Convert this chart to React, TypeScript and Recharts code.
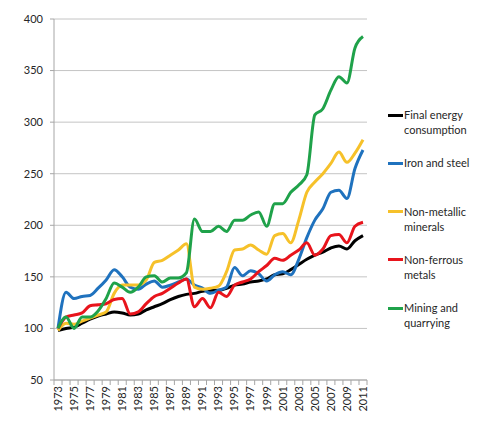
import React from 'react';
import { LineChart, Line, XAxis, YAxis, CartesianGrid } from 'recharts';

const years = [
  '1973', '1974', '1975', '1976', '1977', '1978', '1979', '1980', '1981', '1982',
  '1983', '1984', '1985', '1986', '1987', '1988', '1989', '1990', '1991', '1992',
  '1993', '1994', '1995', '1996', '1997', '1998', '1999', '2000', '2001', '2002',
  '2003', '2004', '2005', '2006', '2007', '2008', '2009', '2010', '2011',
];

const finalEnergy = [
  98, 100, 101, 105, 109, 112, 114, 116, 115, 113,
  114, 118, 121, 124, 128, 131, 133, 134, 136, 137,
  137, 139, 142, 143, 145, 146, 148, 152, 153, 157,
  162, 167, 171, 174, 178, 180, 177, 185, 190,
];

const ironSteel = [
  100, 135, 129, 131, 132, 139, 147, 157, 150, 140,
  138, 143, 146, 140, 142, 145, 148, 142, 139, 134,
  137, 140, 159, 151, 156, 153, 146, 152, 155, 152,
  167, 188, 205, 216, 232, 234, 226, 255, 273,
];

const nonMetallic = [
  98, 105, 104, 107, 110, 113, 116, 134, 142, 142,
  142, 147, 164, 166, 171, 176, 182, 140, 138, 139,
  141, 155, 176, 177, 181, 176, 172, 190, 192, 183,
  205, 232, 242, 250, 260, 271, 261, 270, 283,
];

const nonFerrous = [
  100, 111, 113, 115, 122, 123, 124, 128, 129, 114,
  116, 124, 131, 134, 139, 144, 148, 121, 129, 120,
  135, 131, 142, 145, 148, 155, 161, 168, 166, 171,
  176, 183, 171, 177, 190, 191, 183, 199, 203,
];

const mining = [
  100, 111, 100, 111, 111, 117, 129, 144, 140, 135,
  140, 150, 151, 145, 149, 149, 154, 206, 194, 194,
  199, 194, 205, 205, 210, 213, 199, 221, 221, 232,
  239, 249, 307, 313, 331, 344, 338, 372, 383,
];

const yTicks = [50, 100, 150, 200, 250, 300, 350, 400];

const series = [
  { key: 'final', name: 'Final energy consumption', color: '#000000', values: finalEnergy },
  { key: 'iron', name: 'Iron and steel', color: '#1F72BE', values: ironSteel },
  { key: 'nonmet', name: 'Non-metallic minerals', color: '#F6C12A', values: nonMetallic },
  { key: 'nonfer', name: 'Non-ferrous metals', color: '#E8141C', values: nonFerrous },
  { key: 'mining', name: 'Mining and quarrying', color: '#1FA24A', values: mining },
];

const data = years.map((year, i) => {
  const row: Record<string, string | number> = { year };
  series.forEach((s) => {
    row[s.key] = s.values[i];
  });
  return row;
});

const FONT = 'Lato, "Open Sans", sans-serif';
const AXIS_GREY = '#A6A6A6';
const TEXT = '#262626';

// every year gets a tick mark, every other year a label (Excel style)
const YearTick = (props: any) => {
  const { x, y, payload, index } = props;
  const i = index ?? payload.index;
  const last = i === years.length - 1;
  return (
    <g>
      <line x1={x - 4} y1={y} x2={x - 4} y2={y + 5} stroke={AXIS_GREY} />
      {last && <line x1={x + 4} y1={y} x2={x + 4} y2={y + 5} stroke={AXIS_GREY} />}
      {i % 2 === 0 && (
        <text
          x={x}
          y={y + 6}
          transform={`rotate(-90, ${x}, ${y + 6})`}
          textAnchor="end"
          dy="0.35em"
          fontSize={11}
          fontFamily={FONT}
          fill={TEXT}
        >
          {payload.value}
        </text>
      )}
    </g>
  );
};

const LegendBox = () => (
  <div style={{ position: 'absolute', left: 388, top: 107, fontFamily: FONT, fontSize: 11, color: TEXT }}>
    {series.map((s, i) => (
      <div key={s.key} style={{ position: 'absolute', top: i * 48.3, left: 0, display: 'flex', alignItems: 'flex-start' }}>
        <div style={{ width: 15, height: 3, background: s.color, marginTop: 6.5, flexShrink: 0 }} />
        <div style={{ width: 80, lineHeight: '15px', paddingLeft: 1 }}>{s.name}</div>
      </div>
    ))}
  </div>
);

export default function App() {
  return (
    <div style={{ position: 'absolute', left: 0, top: 0, width: 490, height: 424, background: '#fff' }}>
      <LineChart width={490} height={424} data={data} margin={{ top: 19, right: 123, bottom: 0, left: 14 }}>
        <CartesianGrid vertical={false} stroke="#C4C4C4" />
        <XAxis
          dataKey="year"
          interval={0}
          padding={{ left: 4, right: 4 }}
          height={44}
          tickSize={0}
          tickMargin={0}
          tickLine={false}
          axisLine={{ stroke: AXIS_GREY }}
          tick={<YearTick />}
        />
        <YAxis
          domain={[50, 400]}
          ticks={yTicks}
          width={40}
          tickSize={4}
          tickMargin={7}
          axisLine={{ stroke: AXIS_GREY }}
          tickLine={{ stroke: AXIS_GREY }}
          tick={{ fontSize: 11, fontFamily: FONT, fill: TEXT }}
        />
        {series.map((s) => (
          <Line
            key={s.key}
            type="monotone"
            dataKey={s.key}
            name={s.name}
            stroke={s.color}
            strokeWidth={3}
            dot={false}
            isAnimationActive={false}
          />
        ))}
      </LineChart>
      <LegendBox />
    </div>
  );
}
